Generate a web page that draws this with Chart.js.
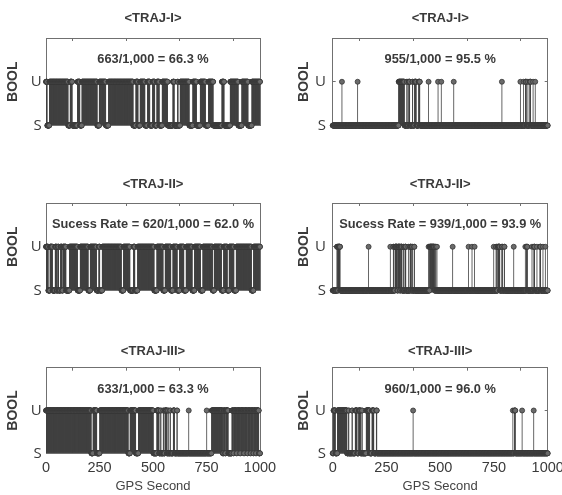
<!DOCTYPE html>
<html>
<head>
<meta charset="utf-8">
<script src="https://cdn.jsdelivr.net/npm/chart.js@4.4.1/dist/chart.umd.min.js"></script>
<style>
  html, body { margin: 0; padding: 0; background: #fff; }
  #wrap { position: relative; width: 562px; height: 495px; }
  #wrap canvas { position: absolute; }
</style>
</head>
<body>
<div id="wrap">
  <canvas id="c0" width="281" height="165" style="left:0;top:0"></canvas>
  <canvas id="c1" width="281" height="165" style="left:281px;top:0"></canvas>
  <canvas id="c2" width="281" height="165" style="left:0;top:165px"></canvas>
  <canvas id="c3" width="281" height="165" style="left:281px;top:165px"></canvas>
  <canvas id="c4" width="281" height="165" style="left:0;top:330px"></canvas>
  <canvas id="c5" width="281" height="165" style="left:281px;top:330px"></canvas>
</div>
<script>
// axis values
const gpsRange = [0, 1000];
const xTicks = [0, 250, 500, 750, 1000];
const yTicks = [0, 1];
const stateLabels = ['S', 'U'];

const titles = ['<TRAJ-I>', '<TRAJ-I>', '<TRAJ-II>', '<TRAJ-II>', '<TRAJ-III>', '<TRAJ-III>'];
const rates = [
    '663/1,000 = 66.3 %',
    '955/1,000 = 95.5 %',
    'Sucess Rate = 620/1,000 = 62.0 %',
    'Sucess Rate = 939/1,000 = 93.9 %',
    '633/1,000 = 63.3 %',
    '960/1,000 = 96.0 %'
];

// GPS seconds (inclusive ranges) where the state is U
const uTraj1Left = [[0,5],[16,103],[113,122],[147,158],[168,239],[249,279],[292,407],[420,430],[440,462],[474,485],
    [498,508],[518,529],[543,568],[593,599],[615,617],[627,669],[686,703],[721,745],[759,781],[822,832],[861,898],
    [915,944],[962,1000]];
const uTraj1Right = [[43,43],[116,116],[307,333],[345,346],[354,358],[371,372],[381,388],[400,405],[446,446],[490,490],
    [505,505],[563,563],[787,787],[873,873],[888,888],[897,900],[908,908],[917,920],[932,932],[942,942]];
const uTraj2Left = [[0,10],[19,30],[43,49],[55,59],[68,74],[79,93],[110,147],[160,197],[207,236],[247,251],[263,352],
    [362,392],[409,415],[428,505],[518,547],[557,583],[593,613],[624,644],[655,683],[694,722],[733,778],[786,820],
    [830,847],[856,878],[889,960],[970,1000]];
const uTraj2Right = [[20,22],[26,34],[167,167],[268,268],[282,283],[290,300],[304,312],[316,322],[330,331],[337,340],
    [352,352],[360,363],[368,370],[379,380],[446,446],[451,473],[479,480],[485,485],[558,558],[632,632],[648,648],
    [660,660],[749,749],[760,761],[768,777],[787,789],[798,799],[842,842],[896,896],[902,905],[927,927],[936,939],
    [950,950],[964,967],[978,978],[989,989]];
const uTraj3Left = [[0,211],[220,237],[251,384],[393,419],[432,501],[518,528],[536,537],[548,549],[556,564],[570,571],
    [580,581],[595,600],[612,613],[667,667],[751,751],[774,825],[830,836],[840,851],[869,875],[878,890],[893,906],
    [909,924],[927,940],[943,955],[958,968],[971,980],[983,994]];
const uTraj3Right = [[4,12],[22,66],[74,75],[90,91],[105,113],[121,129],[136,137],[156,172],[183,191],[203,205],
    [374,374],[838,838],[846,849],[881,881],[935,935]];

const panelRuns = [uTraj1Left, uTraj1Right, uTraj2Left, uTraj2Right, uTraj3Left, uTraj3Right];

// layout per column / row
const colLayout = [
    { yWidth: 46, y2Width: 21, boolPad: 5.3, tickPad: 7.3 },
    { yWidth: 51.7, y2Width: 14.3, boolPad: 15.3, tickPad: 9.7 }
];
const rowLayout = [
    { titlePad: 10.8, x2Height: 11.2, xHeight: 39.5, labels: false },
    { titlePad: 11.6, x2Height: 10.4, xHeight: 39.5, labels: false },
    { titlePad: 13, x2Height: 8.7, xHeight: 41.7, labels: true }
];

const INK = '#3a3a3a';
const FRAME = '#707070';
Chart.defaults.font.family = '"Liberation Sans", Arial, sans-serif';
Chart.defaults.color = INK;

function stateSeries(runs) {
    const pts = [];
    for (let t = gpsRange[0]; t <= gpsRange[1]; t++) {
        const isU = runs.some(r => t >= r[0] && t <= r[1]);
        pts.push({ x: t, y: isU ? 1 : 0 });
    }
    return pts;
}

const rateLabel = {
    id: 'rateLabel',
    afterDatasetsDraw(chart, args, opts) {
        const { ctx, scales: { x, y } } = chart;
        ctx.save();
        ctx.font = 'bold 12.8px "Liberation Sans", Arial, sans-serif';
        ctx.fillStyle = INK;
        ctx.textAlign = 'center';
        ctx.textBaseline = 'middle';
        ctx.fillText(opts.text, x.getPixelForValue(500), y.getPixelForValue(1.5));
        ctx.restore();
    }
};

function frameAxis(extra) {
    return Object.assign({
        grid: { drawOnChartArea: false, drawTicks: true, tickLength: -3, color: FRAME },
        border: { display: true, color: FRAME, width: 1 }
    }, extra);
}

panelRuns.forEach((runs, i) => {
    const col = colLayout[i % 2];
    const row = rowLayout[Math.floor(i / 2)];
    const pts = stateSeries(runs);

    new Chart(document.getElementById('c' + i), {
        type: 'bar',
        data: {
            datasets: [
                {
                    type: 'line',
                    data: pts,
                    showLine: false,
                    pointRadius: 2.5,
                    pointBorderWidth: 0.8,
                    pointBackgroundColor: '#6a6a6a',
                    pointBorderColor: '#363636',
                    clip: false,
                    order: 0
                },
                {
                    type: 'bar',
                    data: pts,
                    backgroundColor: '#404040',
                    borderWidth: 0,
                    barThickness: 0.8,
                    inflateAmount: 0,
                    order: 1
                }
            ]
        },
        options: {
            responsive: false,
            animation: false,
            events: [],
            layout: { padding: 0 },
            plugins: {
                legend: { display: false },
                tooltip: { enabled: false },
                title: {
                    display: true,
                    text: titles[i],
                    fullSize: false,
                    color: INK,
                    font: { size: 13, weight: 'bold', lineHeight: '16px' },
                    padding: { top: row.titlePad, bottom: 0 }
                },
                rateLabel: { text: rates[i] }
            },
            scales: {
                x: frameAxis({
                    type: 'linear', position: 'bottom', min: gpsRange[0], max: gpsRange[1], offset: false,
                    afterBuildTicks: s => { s.ticks = xTicks.map(v => ({ value: v })); },
                    afterFit: s => { s.height = row.xHeight; s.paddingLeft = 0; s.paddingRight = 0; },
                    ticks: {
                        display: row.labels, maxRotation: 0, autoSkip: false, padding: 9.5, color: INK,
                        font: { size: 14.5, lineHeight: '16px' },
                        callback: v => String(v)
                    },
                    title: {
                        display: row.labels, text: 'GPS Second', color: '#444',
                        font: { size: 13, lineHeight: '14px' },
                        padding: { top: 0, bottom: 1.3 }
                    }
                }),
                x2: frameAxis({
                    type: 'linear', position: 'top', min: gpsRange[0], max: gpsRange[1], offset: false,
                    afterBuildTicks: s => { s.ticks = xTicks.map(v => ({ value: v })); },
                    afterFit: s => { s.height = row.x2Height; s.paddingLeft = 0; s.paddingRight = 0; },
                    ticks: { display: false }
                }),
                y: frameAxis({
                    type: 'linear', position: 'left', min: 0, max: 2,
                    afterBuildTicks: s => { s.ticks = yTicks.map(v => ({ value: v })); },
                    afterFit: s => { s.width = col.yWidth; s.paddingTop = 0; s.paddingBottom = 0; },
                    ticks: {
                        padding: col.tickPad, color: INK,
                        font: { family: '"Open Sans", "Noto Sans", sans-serif', size: 15 },
                        callback: v => stateLabels[v]
                    },
                    title: {
                        display: true, text: 'BOOL', color: INK,
                        font: { size: 14, weight: 'bold', lineHeight: '16px' },
                        padding: { top: col.boolPad, bottom: 0 }
                    }
                }),
                y2: frameAxis({
                    type: 'linear', position: 'right', min: 0, max: 2,
                    afterBuildTicks: s => { s.ticks = yTicks.map(v => ({ value: v })); },
                    afterFit: s => { s.width = col.y2Width; s.paddingTop = 0; s.paddingBottom = 0; },
                    ticks: { display: false }
                })
            }
        },
        plugins: [rateLabel]
    });
});
</script>
</body>
</html>
